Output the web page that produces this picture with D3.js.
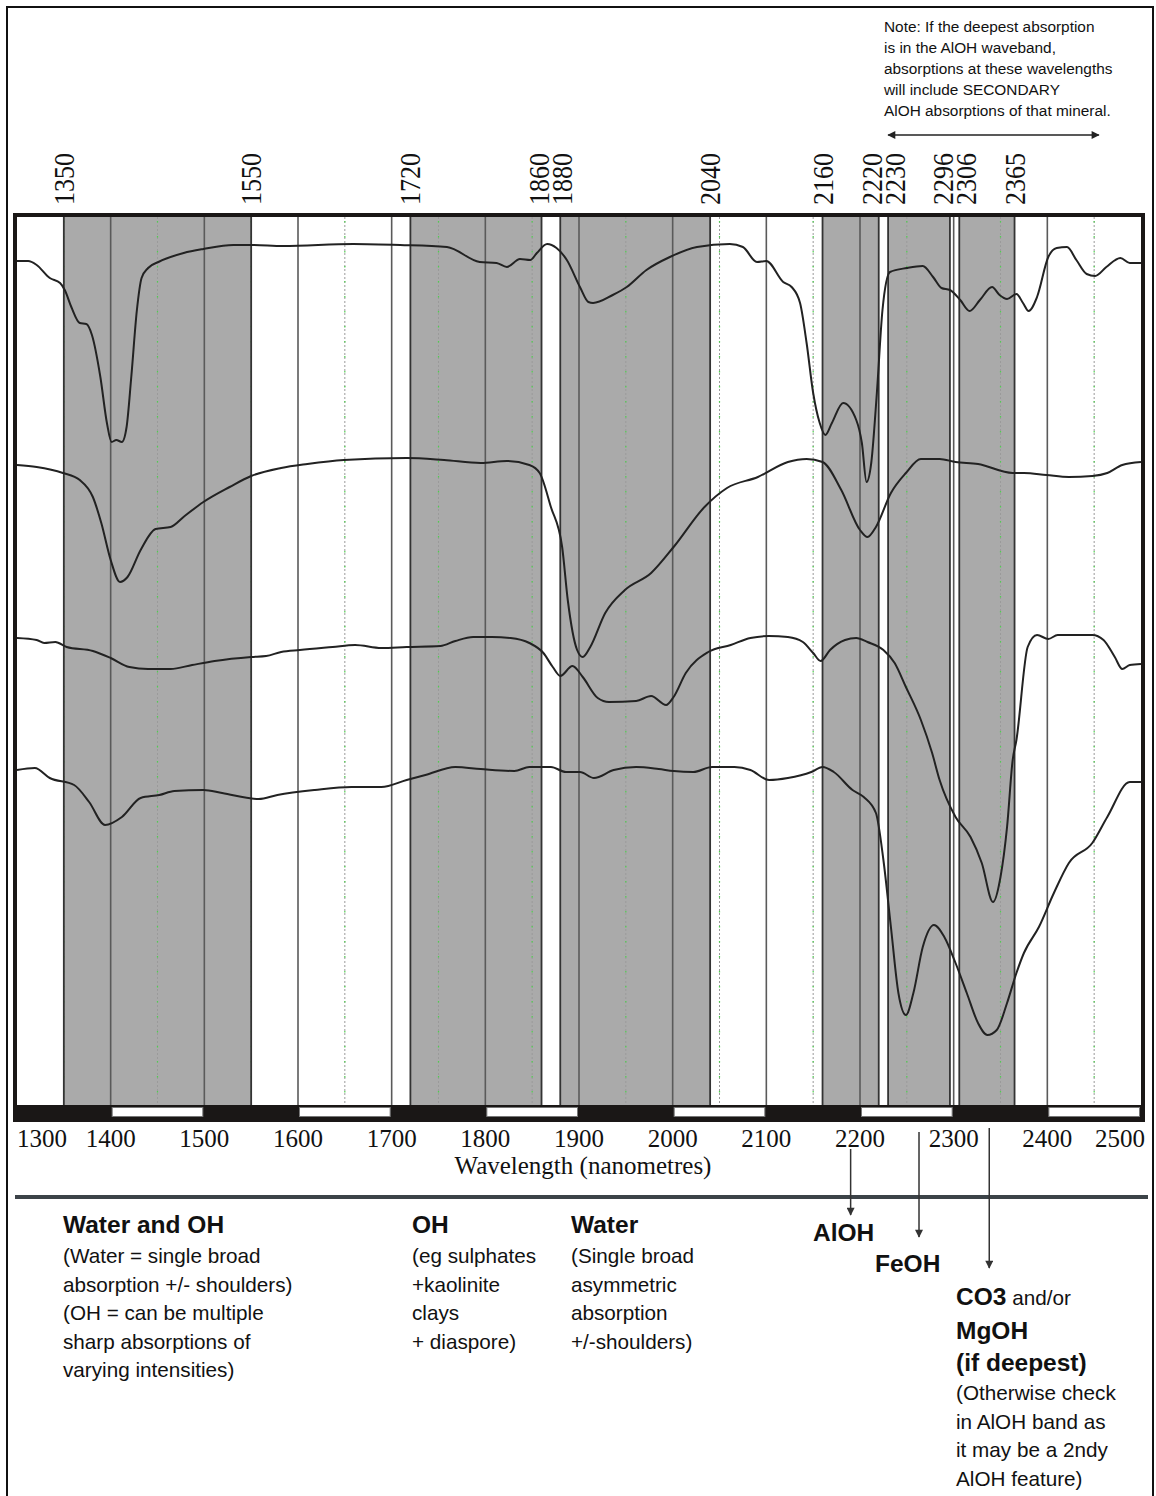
<!DOCTYPE html>
<html>
<head>
<meta charset="utf-8">
<script src="https://cdn.jsdelivr.net/npm/d3@7"></script>
<style>
  html, body { margin: 0; padding: 0; background: #fff; }
  svg { display: block; }
</style>
</head>
<body>
<svg id="chart" width="1156" height="1496"></svg>
<script>
// ---- wavelength ticks and absorption windows (nm) ----
const tickValues = [1300, 1400, 1500, 1600, 1700, 1800, 1900, 2000, 2100, 2200, 2300, 2400, 2500];
const halfTicks = [1350, 1450, 1550, 1650, 1750, 1850, 1950, 2050, 2150, 2250, 2350, 2450];
const bands = [[1350, 1550], [1720, 1860], [1880, 2040], [2160, 2220], [2230, 2296], [2306, 2365]];
const edgeLabels = [1350, 1550, 1720, 1860, 1880, 2040, 2160, 2220, 2230, 2296, 2306, 2365];

// ---- reflectance spectra, stacked with offsets: [wavelength nm, relative reflectance] ----
const spectrumA = [
  [1300,84.4],[1312,84.4],[1321,84.0],[1335,82.7],[1346,82.2],[1351,81.5],[1358,79.8],[1367,78.2],
  [1374,78.1],[1380,77.0],[1389,72.8],[1396,68.2],[1401,66.3],[1406,66.5],[1412,66.3],[1417,67.8],
  [1422,72.8],[1428,79.5],[1433,82.7],[1440,83.7],[1451,84.3],[1478,85.2],[1499,85.6],[1531,86.0],
  [1551,86.0],[1584,85.9],[1659,86.1],[1709,86.0],[1759,85.8],[1794,84.3],[1812,84.2],[1823,83.8],
  [1837,84.6],[1848,84.5],[1855,85.2],[1866,86.1],[1876,85.7],[1887,84.5],[1901,81.8],[1910,80.3],
  [1915,80.2],[1936,81.0],[1951,81.8],[1972,83.5],[1997,84.8],[2026,85.8],[2061,86.1],[2075,85.8],
  [2090,84.3],[2100,84.4],[2118,82.3],[2127,81.8],[2136,80.2],[2143,76.2],[2150,71.2],[2157,68.2],
  [2163,67.0],[2170,68.2],[2182,70.2],[2196,68.5],[2202,66.2],[2207,62.3],[2212,64.2],[2218,71.2],
  [2224,79.5],[2232,83.3],[2250,83.7],[2267,83.9],[2278,82.8],[2287,81.7],[2296,81.5],[2307,80.5],
  [2317,79.4],[2328,80.5],[2341,81.8],[2349,81.0],[2357,80.6],[2367,81.1],[2374,80.2],[2380,79.4],
  [2389,80.8],[2401,84.8],[2410,85.7],[2421,85.8],[2431,84.5],[2442,83.1],[2451,82.9],[2463,83.8],
  [2478,84.7],[2488,84.2],[2500,84.2]
];
const spectrumB = [
  [1300,64.0],[1321,63.8],[1349,63.2],[1367,62.5],[1381,60.8],[1390,58.2],[1400,54.5],[1410,52.3],
  [1418,52.8],[1432,55.5],[1448,57.6],[1464,57.8],[1479,58.9],[1499,60.3],[1527,61.8],[1550,62.9],
  [1582,63.7],[1610,64.1],[1649,64.5],[1716,64.7],[1756,64.5],[1795,64.2],[1823,64.4],[1847,64.0],
  [1858,63.2],[1870,59.8],[1882,55.8],[1888,50.5],[1898,45.5],[1904,44.8],[1912,45.8],[1928,49.2],
  [1949,51.5],[1977,53.2],[2001,55.8],[2034,59.8],[2058,61.7],[2091,62.8],[2123,64.3],[2143,64.6],
  [2160,64.3],[2180,61.5],[2200,57.5],[2208,56.8],[2217,57.8],[2233,61.2],[2249,63.2],[2265,64.6],
  [2285,64.6],[2302,64.3],[2326,64.1],[2363,63.2],[2375,63.2],[2399,63.0],[2423,62.8],[2448,62.9],
  [2464,63.2],[2480,64.0],[2500,64.3]
];
const spectrumC = [
  [1300,46.7],[1321,46.5],[1329,46.2],[1341,46.3],[1353,45.8],[1381,45.4],[1400,44.7],[1420,43.8],
  [1440,43.6],[1464,43.6],[1487,44.0],[1511,44.4],[1550,44.8],[1566,44.9],[1582,45.3],[1602,45.5],
  [1637,45.8],[1661,46.0],[1689,45.7],[1716,45.8],[1752,45.9],[1768,46.4],[1787,46.8],[1807,46.8],
  [1827,46.7],[1847,46.2],[1862,45.2],[1872,43.8],[1880,42.9],[1893,43.9],[1904,42.8],[1920,40.7],
  [1932,40.3],[1961,40.4],[1977,40.9],[1993,40.0],[2001,40.8],[2014,43.2],[2038,45.3],[2062,46.0],
  [2083,46.7],[2103,46.9],[2123,46.8],[2139,46.3],[2150,45.2],[2158,44.4],[2168,45.5],[2184,46.5],
  [2196,46.7],[2208,46.3],[2225,45.5],[2237,44.2],[2249,41.8],[2265,38.5],[2277,35.2],[2285,32.5],
  [2302,28.8],[2318,26.8],[2330,24.2],[2342,20.3],[2350,22.8],[2357,27.8],[2363,34.5],[2367,36.5],
  [2379,45.8],[2389,47.0],[2401,46.6],[2411,47.0],[2448,47.0],[2460,46.5],[2472,44.8],[2480,43.6],
  [2488,44.0],[2500,44.1]
];
const spectrumD = [
  [1300,33.5],[1319,33.7],[1335,32.7],[1361,32.0],[1377,30.3],[1394,28.0],[1412,28.8],[1432,30.7],
  [1452,31.0],[1468,31.4],[1499,31.5],[1519,31.2],[1558,30.6],[1578,31.0],[1618,31.5],[1657,31.8],
  [1689,31.8],[1716,32.5],[1736,33.0],[1768,33.8],[1795,33.6],[1831,33.4],[1847,33.8],[1870,33.8],
  [1886,33.3],[1901,33.3],[1916,32.7],[1937,33.5],[1961,33.8],[1985,33.6],[2001,33.4],[2022,33.3],
  [2042,33.8],[2066,33.8],[2083,33.5],[2103,32.5],[2123,32.7],[2148,33.3],[2160,33.8],[2172,33.3],
  [2192,31.5],[2204,30.8],[2217,29.2],[2225,24.5],[2233,17.8],[2241,11.2],[2249,9.0],[2257,11.2],
  [2267,15.8],[2279,18.0],[2290,16.8],[2302,14.2],[2314,11.2],[2326,8.2],[2336,7.0],[2346,7.5],
  [2357,10.2],[2367,13.2],[2375,15.2],[2391,17.8],[2407,21.2],[2423,24.2],[2448,26.2],[2464,28.8],
  [2488,32.3],[2500,32.3]
];
const spectra = [spectrumA, spectrumB, spectrumC, spectrumD];

// ---- annotation text ----
const noteLines = [
  "Note: If the deepest absorption",
  "is in the AlOH waveband,",
  "absorptions at these wavelengths",
  "will include SECONDARY",
  "AlOH absorptions of that mineral."
];
const noteSpan = [2230, 2455];
const axisTitle = "Wavelength (nanometres)";

const waterOHTitle = "Water and OH";
const waterOHLines = ["(Water = single broad", "absorption +/- shoulders)", "(OH = can be multiple", "sharp absorptions of", "varying intensities)"];
const ohTitle = "OH";
const ohLines = ["(eg sulphates", "+kaolinite", "clays", "+ diaspore)"];
const waterTitle = "Water";
const waterLines = ["(Single broad", "asymmetric", "absorption", "+/-shoulders)"];
const featureNames = ["AlOH", "FeOH", "CO3"];
const featureWavelengths = [2190, 2263, 2338];
const carbonateBold = ["MgOH", "(if deepest)"];
const carbonateLines = ["(Otherwise check", "in AlOH band as", "it may be a 2ndy", "AlOH feature)"];

// ---- layout ----
const W = 1156, H = 1496;
const plot = { left: 17, right: 1141, top: 217, bottom: 1105 };
const barBottom = 1119;
const serif = "'Liberation Serif', 'Times New Roman', serif";
const sans = "'Liberation Sans', Arial, sans-serif";

const svg = d3.select("#chart");

const x = d3.scaleLinear().domain([1300, 2500]).range([plot.left, plot.right]);
const y = d3.scaleLinear().domain([0, 88.8]).range([plot.bottom, plot.top]);

// outer page border
svg.append("rect")
  .attr("x", 7).attr("y", 7).attr("width", 1146).attr("height", H + 20)
  .attr("fill", "none").attr("stroke", "#111").attr("stroke-width", 2);

// plot background
svg.append("rect")
  .attr("x", plot.left).attr("y", plot.top)
  .attr("width", plot.right - plot.left).attr("height", plot.bottom - plot.top)
  .attr("fill", "#fff");

// shaded absorption windows
svg.append("g").selectAll("rect").data(bands).join("rect")
  .attr("x", d => x(d[0])).attr("y", plot.top)
  .attr("width", d => x(d[1]) - x(d[0])).attr("height", plot.bottom - plot.top)
  .attr("fill", "#aaaaaa");

// dotted half-hundred guides (grey dots with green flecks)
const half = svg.append("g");
half.selectAll("line.g1").data(halfTicks).join("line")
  .attr("x1", d => x(d)).attr("x2", d => x(d))
  .attr("y1", plot.top).attr("y2", plot.bottom)
  .attr("stroke", "#9a9a9a").attr("stroke-width", 1).attr("stroke-dasharray", "2,2");
half.selectAll("line.g2").data(halfTicks).join("line")
  .attr("x1", d => x(d)).attr("x2", d => x(d))
  .attr("y1", plot.top + 4).attr("y2", plot.bottom)
  .attr("stroke", "#4ed04e").attr("stroke-width", 1.2).attr("stroke-dasharray", "1.5,13.5");

// solid hundred lines
svg.append("g").selectAll("line").data(tickValues.slice(1, -1)).join("line")
  .attr("x1", d => x(d)).attr("x2", d => x(d))
  .attr("y1", plot.top).attr("y2", plot.bottom)
  .attr("stroke", "#5a5a5a").attr("stroke-width", 1.6);

// window edges
svg.append("g").selectAll("line").data(edgeLabels).join("line")
  .attr("x1", d => x(d)).attr("x2", d => x(d))
  .attr("y1", plot.top).attr("y2", plot.bottom)
  .attr("stroke", "#333").attr("stroke-width", 1.8);

// spectra
const line = d3.line().x(d => x(d[0])).y(d => y(d[1])).curve(d3.curveMonotoneX);
svg.append("g").selectAll("path").data(spectra).join("path")
  .attr("d", line)
  .attr("fill", "none").attr("stroke", "#222").attr("stroke-width", 2)
  .attr("stroke-linejoin", "round");

// alternating scale bar under the plot
const segs = d3.pairs(tickValues);
const bar = svg.append("g");
bar.append("rect")
  .attr("x", plot.left).attr("y", plot.bottom)
  .attr("width", plot.right - plot.left).attr("height", barBottom - plot.bottom)
  .attr("fill", "#1a1716");
bar.selectAll("rect.w").data(segs.filter((d, i) => i % 2 === 1)).join("rect")
  .attr("x", d => x(d[0]) + 1.5).attr("y", plot.bottom + 2.5)
  .attr("width", d => x(d[1]) - x(d[0]) - 3).attr("height", barBottom - plot.bottom - 5)
  .attr("fill", "#fff").attr("stroke", "#777").attr("stroke-width", 1);

// plot frame
svg.append("rect")
  .attr("x", plot.left - 2).attr("y", plot.top - 2)
  .attr("width", plot.right - plot.left + 4).attr("height", barBottom - plot.top + 3)
  .attr("fill", "none").attr("stroke", "#1a1716").attr("stroke-width", 4);

// bottom wavelength labels
svg.append("g").selectAll("text").data(tickValues).join("text")
  .attr("x", d => Math.min(Math.max(x(d), plot.left + 25), plot.right - 21))
  .attr("y", 1147)
  .attr("text-anchor", "middle")
  .attr("font-family", serif).attr("font-size", 25).attr("fill", "#111")
  .text(d => d);

svg.append("text")
  .attr("x", (plot.left + plot.right) / 2 + 4).attr("y", 1174)
  .attr("text-anchor", "middle")
  .attr("font-family", serif).attr("font-size", 25).attr("fill", "#111")
  .text(axisTitle);

// rotated window-edge labels, spread apart where they crowd
const minGap = 23;
const edgePos = edgeLabels.map(d => x(d));
for (let pass = 0; pass < 4; pass++) {
  for (let i = 0; i < edgePos.length - 1; i++) {
    const gap = edgePos[i + 1] - edgePos[i];
    if (gap < minGap) {
      const s = (minGap - gap) / 2;
      edgePos[i] -= s; edgePos[i + 1] += s;
    }
  }
}
svg.append("g").selectAll("text").data(edgeLabels).join("text")
  .attr("transform", (d, i) => `translate(${edgePos[i]},205) rotate(-90) scale(1,1.14)`)
  .attr("text-anchor", "start").attr("dominant-baseline", "central")
  .attr("font-family", serif).attr("font-size", 26).attr("fill", "#111")
  .text(d => d);

// note at top right with span arrow
const note = svg.append("g");
note.selectAll("text").data(noteLines).join("text")
  .attr("x", 884).attr("y", (d, i) => 32 + i * 21)
  .attr("font-family", sans).attr("font-size", 15.4).attr("fill", "#111")
  .text(d => d);

const defs = svg.append("defs");
defs.append("marker").attr("id", "head").attr("viewBox", "0 0 10 10")
  .attr("refX", 9).attr("refY", 5).attr("markerWidth", 10).attr("markerHeight", 8)
  .attr("markerUnits", "userSpaceOnUse").attr("orient", "auto-start-reverse")
  .append("path").attr("d", "M0,0 L10,5 L0,10 Z").attr("fill", "#222");
defs.append("marker").attr("id", "headSmall").attr("viewBox", "0 0 10 10")
  .attr("refX", 9).attr("refY", 5).attr("markerWidth", 9).attr("markerHeight", 8)
  .attr("markerUnits", "userSpaceOnUse").attr("orient", "auto")
  .append("path").attr("d", "M0,0 L10,5 L0,10 Z").attr("fill", "#333");

note.append("line")
  .attr("x1", x(noteSpan[0])).attr("x2", x(noteSpan[1]))
  .attr("y1", 135).attr("y2", 135)
  .attr("stroke", "#222").attr("stroke-width", 1.6)
  .attr("marker-start", "url(#head)").attr("marker-end", "url(#head)");

// divider below the axis
svg.append("line")
  .attr("x1", 15).attr("x2", 1148).attr("y1", 1197).attr("y2", 1197)
  .attr("stroke", "#3c4348").attr("stroke-width", 4);

// feature arrows down to the labels
const arrowTop = [1149, 1132, 1128];
const arrowTip = [1215, 1237, 1268];
svg.append("g").selectAll("line").data(featureWavelengths).join("line")
  .attr("x1", d => x(d)).attr("x2", d => x(d))
  .attr("y1", (d, i) => arrowTop[i]).attr("y2", (d, i) => arrowTip[i])
  .attr("stroke", "#333").attr("stroke-width", 1.5)
  .attr("marker-end", "url(#headSmall)");

// lower explanatory text
const lineH = 28.6;
function block(x0, title, lines) {
  const g = svg.append("g");
  g.append("text").attr("x", x0).attr("y", 1233)
    .attr("font-family", sans).attr("font-size", 24.5).attr("font-weight", "bold").attr("fill", "#111")
    .text(title);
  g.selectAll("text.l").data(lines).join("text")
    .attr("x", x0).attr("y", (d, i) => 1263 + i * lineH)
    .attr("font-family", sans).attr("font-size", 20.7).attr("fill", "#111")
    .text(d => d);
}
block(63, waterOHTitle, waterOHLines);
block(412, ohTitle, ohLines);
block(571, waterTitle, waterLines);

const boldText = (x0, y0, t) => svg.append("text").attr("x", x0).attr("y", y0)
  .attr("font-family", sans).attr("font-size", 24.5).attr("font-weight", "bold").attr("fill", "#111").text(t);
boldText(813, 1241, featureNames[0]);
boldText(875, 1272, featureNames[1]);

const co3 = svg.append("text").attr("x", 956).attr("y", 1305)
  .attr("font-family", sans).attr("fill", "#111");
co3.append("tspan").attr("font-size", 24.5).attr("font-weight", "bold").text(featureNames[2]);
co3.append("tspan").attr("font-size", 20.7).text(" and/or");

carbonateBold.forEach((t, i) => boldText(956, 1339 + i * 32, t));
svg.append("g").selectAll("text").data(carbonateLines).join("text")
  .attr("x", 956).attr("y", (d, i) => 1400 + i * lineH)
  .attr("font-family", sans).attr("font-size", 20.7).attr("fill", "#111")
  .text(d => d);
</script>
</body>
</html>
